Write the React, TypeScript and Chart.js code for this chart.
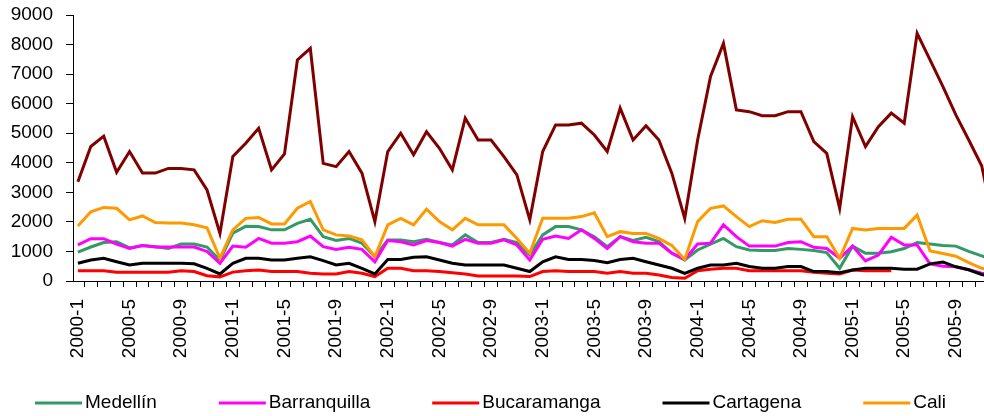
import React, { useEffect, useRef } from 'react';
import { Chart, registerables } from 'chart.js';

Chart.register(...registerables);

const months = [
  '2000-1', '2000-2', '2000-3', '2000-4', '2000-5', '2000-6', '2000-7', '2000-8', '2000-9', '2000-10', '2000-11', '2000-12',
  '2001-1', '2001-2', '2001-3', '2001-4', '2001-5', '2001-6', '2001-7', '2001-8', '2001-9', '2001-10', '2001-11', '2001-12',
  '2002-1', '2002-2', '2002-3', '2002-4', '2002-5', '2002-6', '2002-7', '2002-8', '2002-9', '2002-10', '2002-11', '2002-12',
  '2003-1', '2003-2', '2003-3', '2003-4', '2003-5', '2003-6', '2003-7', '2003-8', '2003-9', '2003-10', '2003-11', '2003-12',
  '2004-1', '2004-2', '2004-3', '2004-4', '2004-5', '2004-6', '2004-7', '2004-8', '2004-9', '2004-10', '2004-11', '2004-12',
  '2005-1', '2005-2', '2005-3', '2005-4', '2005-5', '2005-6', '2005-7', '2005-8', '2005-9', '2005-10', '2005-11', '2005-12',
];

const medellin = [
  980, 1150, 1300, 1330, 1120, 1200, 1160, 1100, 1250, 1250, 1150, 700,
  1620, 1850, 1840, 1730, 1730, 1950, 2090, 1500, 1370, 1440, 1280, 820,
  1390, 1390, 1330, 1410, 1300, 1220, 1560, 1300, 1300, 1410, 1300, 880,
  1560, 1840, 1840, 1730, 1500, 1160, 1500, 1370, 1480, 1330, 940, 710,
  1050, 1250, 1440, 1160, 1050, 1030, 1030, 1100, 1070, 1030, 960, 430,
  1180, 940, 940, 990, 1100, 1300, 1250, 1200, 1180, 1000, 850, 700,
];

const barranquilla = [
  1220, 1430, 1430, 1250, 1100, 1200, 1150, 1150, 1150, 1150, 1000, 600,
  1180, 1140, 1440, 1280, 1280, 1330, 1520, 1160, 1070, 1140, 1070, 650,
  1370, 1330, 1220, 1370, 1300, 1180, 1410, 1280, 1280, 1390, 1220, 710,
  1410, 1520, 1440, 1730, 1440, 1100, 1500, 1330, 1280, 1280, 940, 730,
  1250, 1280, 1900, 1500, 1180, 1180, 1180, 1300, 1330, 1140, 1100, 770,
  1180, 680, 880, 1480, 1220, 1220, 580, 500, 480, 380, 260, 200,
];

const bucaramanga = [
  350, 350, 350, 300, 300, 300, 300, 300, 350, 320, 180, 140,
  300, 350, 370, 320, 320, 320, 260, 240, 240, 320, 260, 150,
  430, 430, 350, 350, 320, 280, 240, 170, 170, 170, 170, 150,
  320, 350, 320, 320, 320, 260, 320, 260, 260, 200, 120, 90,
  350, 400, 430, 430, 350, 350, 350, 350, 350, 300, 260, 240,
  370, 350, 350, 350, null, null, null, null, null, null, null, null,
];

const cartagena = [
  600, 710, 770, 650, 540, 600, 600, 600, 600, 580, 430, 240,
  600, 770, 770, 710, 710, 770, 820, 690, 540, 600, 430, 240,
  730, 730, 800, 820, 710, 600, 540, 540, 540, 540, 430, 320,
  650, 820, 730, 730, 690, 620, 730, 770, 650, 540, 430, 260,
  430, 540, 540, 600, 490, 430, 430, 490, 490, 320, 320, 280,
  370, 430, 430, 430, 400, 400, 580, 640, 480, 380, 220, 150,
];

const cali = [
  1860, 2340, 2490, 2460, 2070, 2200, 1980, 1960, 1960, 1900, 1800, 770,
  1730, 2120, 2150, 1930, 1930, 2460, 2690, 1730, 1560, 1520, 1390, 820,
  1900, 2120, 1900, 2430, 2010, 1730, 2120, 1900, 1900, 1900, 1440, 940,
  2120, 2120, 2120, 2180, 2310, 1500, 1670, 1610, 1610, 1440, 1200, 730,
  2010, 2460, 2540, 2180, 1840, 2040, 1980, 2090, 2090, 1500, 1500, 770,
  1780, 1730, 1780, 1780, 1780, 2230, 1020, 930, 840, 620, 430, 350,
];

const bogota = [
  3360, 4550, 4900, 3680, 4380, 3650, 3650, 3810, 3810, 3760, 3080, 1610,
  4210, 4660, 5170, 3760, 4300, 7480, 7870, 3980, 3870, 4380, 3650, 2010,
  4380, 5000, 4270, 5050, 4490, 3760, 5510, 4770, 4770, 4210, 3590, 2070,
  4380, 5280, 5280, 5340, 4940, 4380, 5850, 4770, 5250, 4770, 3650, 2120,
  4770, 6920, 8040, 5790, 5730, 5590, 5590, 5730, 5730, 4720, 4320, 2460,
  5560, 4550, 5220, 5680, 5340, 8380, 7480, 6580, 5620, 4770, 3900, 1800,
];

const seriesNames = ['Medellín', 'Barranquilla', 'Bucaramanga', 'Cartagena', 'Cali', 'Bogotá'];
const seriesValues = [medellin, barranquilla, bucaramanga, cartagena, cali, bogota];
const seriesColors = ['#339966', '#FF00FF', '#FF0000', '#000000', '#FF9900', '#800000'];
const legendNames = ['Medellín', 'Barranquilla', 'Bucaramanga', 'Cartagena', 'Cali'];

const FONT = '"Liberation Sans", Arial, sans-serif';

export default function App() {
  const ref = useRef<HTMLCanvasElement>(null);

  useEffect(() => {
    if (!ref.current) return;

    const legendPlugin = {
      id: 'bottomLineLegend',
      afterDraw(chart: any) {
        const ctx = chart.ctx;
        ctx.save();
        ctx.font = `19px ${FONT}`;
        ctx.textBaseline = 'middle';
        ctx.textAlign = 'left';
        let x = 35;
        const y = 403;
        chart.data.datasets.forEach((ds: any) => {
          if (!legendNames.includes(ds.label)) return;
          ctx.strokeStyle = ds.borderColor;
          ctx.lineWidth = 3;
          ctx.beginPath();
          ctx.moveTo(x, y);
          ctx.lineTo(x + 47, y);
          ctx.stroke();
          ctx.fillStyle = '#000';
          ctx.fillText(ds.label, x + 50, y);
          x += 50 + ctx.measureText(ds.label).width + 62;
        });
        ctx.restore();
      },
    };

    const chart = new Chart(ref.current, {
      type: 'line',
      data: {
        datasets: seriesNames.map((name, i) => ({
          label: name,
          data: seriesValues[i].map((v, k) => ({ x: k, y: v })),
          borderColor: seriesColors[i],
          backgroundColor: seriesColors[i],
          borderWidth: 3,
          pointRadius: 0,
          pointHoverRadius: 0,
          tension: 0,
          spanGaps: false,
          order: 10 - i,
        })),
      },
      options: {
        responsive: false,
        animation: false,
        layout: { padding: { top: 15, left: 0, right: 0, bottom: 0 } },
        plugins: {
          legend: { display: false },
          tooltip: { enabled: false },
        },
        scales: {
          x: {
            type: 'linear',
            min: -0.38,
            max: 70.18,
            afterBuildTicks: (s: any) => {
              s.ticks = months.slice(0, 71).map((_, i) => ({ value: i }));
            },
            afterFit: (s: any) => {
              s.height = 135;
              s.paddingLeft = 0;
              s.paddingRight = 0;
            },
            ticks: {
              autoSkip: false,
              minRotation: 90,
              maxRotation: 90,
              padding: 12,
              color: '#000',
              font: { family: FONT, size: 19 },
              callback: (v: any) => (Number.isInteger(v) && v % 4 === 0 ? months[v] : ''),
            },
            grid: {
              display: true,
              drawOnChartArea: false,
              drawTicks: true,
              tickLength: 6,
              tickColor: '#000',
              offset: true,
            },
            border: { display: true, color: '#000', width: 1 },
          },
          y: {
            min: 0,
            max: 9000,
            afterFit: (s: any) => {
              s.width = 73;
              s.paddingTop = 0;
              s.paddingBottom = 0;
            },
            ticks: {
              stepSize: 1000,
              padding: 13,
              color: '#000',
              font: { family: FONT, size: 19 },
              callback: (v: any) => String(v),
            },
            grid: {
              display: true,
              drawOnChartArea: false,
              drawTicks: true,
              tickLength: 7,
              tickColor: '#000',
            },
            border: { display: true, color: '#000', width: 1 },
          },
        },
      },
      plugins: [legendPlugin],
    } as any);

    return () => chart.destroy();
  }, []);

  return (
    <div style={{ position: 'absolute', left: 0, top: 0, width: 984, height: 416, background: '#fff' }}>
      <canvas ref={ref} width={984} height={416} style={{ display: 'block' }} />
    </div>
  );
}
